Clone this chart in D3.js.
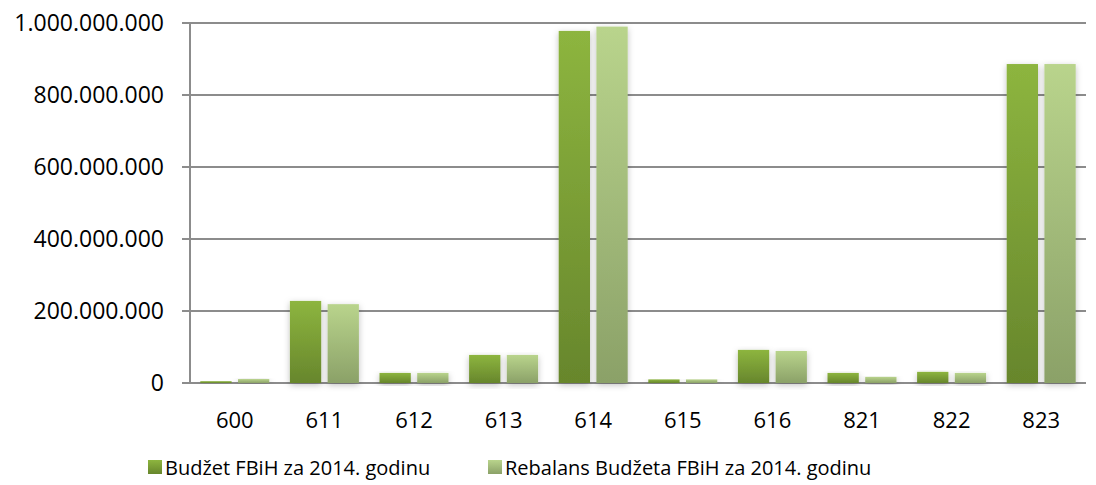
<!DOCTYPE html>
<html>
<head>
<meta charset="utf-8">
<script src="https://cdn.jsdelivr.net/npm/d3@7"></script>
<style>
  body { margin: 0; background: #fff; }
  text { font-family: "Open Sans", "Noto Sans", sans-serif; fill: #000; }
</style>
</head>
<body>
<svg id="drawing_region"></svg>
<script>
// kategorije (ekonomski kodovi)
const categories = ['600', '611', '612', '613', '614', '615', '616', '821', '822', '823'];
const budzet   = [5e6, 228e6, 28e6, 78e6, 978e6, 10e6, 92e6, 28e6, 31e6, 886e6];
const rebalans = [11e6, 219e6, 28e6, 78e6, 990e6, 10e6, 89e6, 17e6, 28e6, 886e6];
const seriesNames = ['Budžet FBiH za 2014. godinu', 'Rebalans Budžeta FBiH za 2014. godinu'];
const yTicks = [0, 200e6, 400e6, 600e6, 800e6, 1000e6];

const config = {
    width: 1096,
    height: 485,
    margin: {top: 23, right: 10, bottom: 102, left: 190}
};

const svg = d3.select('#drawing_region')
    .attr('width', config.width)
    .attr('height', config.height);

const defs = svg.append('defs');
const grads = [['g0', '#8db53f', '#67862c'], ['g1', '#b9d48c', '#8ba168']];
grads.forEach(g => {
    const lg = defs.append('linearGradient').attr('id', g[0])
        .attr('x1', 0).attr('y1', 0).attr('x2', 0).attr('y2', 1);
    lg.append('stop').attr('offset', '0%').attr('stop-color', g[1]);
    lg.append('stop').attr('offset', '100%').attr('stop-color', g[2]);
});
const f = defs.append('filter').attr('id', 'shadow')
    .attr('x', '-30%').attr('y', '-10%').attr('width', '160%').attr('height', '130%');
f.append('feDropShadow').attr('dx', 0).attr('dy', 2).attr('stdDeviation', 3)
    .attr('flood-color', '#000').attr('flood-opacity', 0.25);

const inner_width = config.width - config.margin.left - config.margin.right;
const inner_height = config.height - config.margin.top - config.margin.bottom;

const chart = svg.append('g')
    .attr('transform', `translate(${config.margin.left}, ${config.margin.top})`);

const xscale = d3.scaleBand()
    .domain(categories)
    .range([0, inner_width])
    .paddingInner(0.23)
    .paddingOuter(0.115);

const x1 = d3.scaleBand()
    .domain([0, 1])
    .range([0, xscale.bandwidth()])
    .paddingInner(0.17);

const yscale = d3.scaleLinear()
    .domain([0, 1e9])
    .range([inner_height, 0]);

const fmt = v => d3.format(',')(v).replace(/,/g, '.');

// mreža
chart.selectAll('.grid')
    .data(yTicks)
    .enter()
    .append('line')
    .attr('x1', -8)
    .attr('x2', inner_width)
    .attr('y1', d => yscale(d))
    .attr('y2', d => yscale(d))
    .attr('stroke', '#8c8c8c')
    .attr('stroke-width', 2);

chart.append('line')
    .attr('x1', 0).attr('x2', 0)
    .attr('y1', 0).attr('y2', inner_height)
    .attr('stroke', '#8c8c8c')
    .attr('stroke-width', 2);

chart.selectAll('.ylab')
    .data(yTicks)
    .enter()
    .append('text')
    .attr('x', -26)
    .attr('y', d => yscale(d))
    .attr('dy', '0.35em')
    .attr('text-anchor', 'end')
    .attr('font-size', 23)
    .text(d => fmt(d));

const rows = categories.map((c, i) => ({c: c, v: [budzet[i], rebalans[i]]}));

const groups = chart.selectAll('.grp')
    .data(rows)
    .enter()
    .append('g')
    .attr('transform', d => `translate(${xscale(d.c)},0)`);

groups.selectAll('rect')
    .data(d => d.v.map((v, k) => ({k: k, v: v})))
    .enter()
    .append('rect')
    .attr('x', d => x1(d.k))
    .attr('y', d => yscale(d.v))
    .attr('width', x1.bandwidth())
    .attr('height', d => inner_height - yscale(d.v))
    .attr('fill', d => `url(#g${d.k})`)
    .attr('filter', 'url(#shadow)');

chart.selectAll('.xlab')
    .data(categories)
    .enter()
    .append('text')
    .attr('x', d => xscale(d) + xscale.bandwidth() / 2)
    .attr('y', inner_height + 45)
    .attr('text-anchor', 'middle')
    .attr('font-size', 22)
    .text(d => d);

// legenda
const legendX = [148, 488];
seriesNames.forEach((name, k) => {
    svg.append('rect')
        .attr('x', legendX[k])
        .attr('y', 460)
        .attr('width', 14)
        .attr('height', 14)
        .attr('fill', `url(#g${k})`);
    svg.append('text')
        .attr('x', legendX[k] + 17)
        .attr('y', 475)
        .attr('font-size', 20)
        .text(name);
});
</script>
</body>
</html>
